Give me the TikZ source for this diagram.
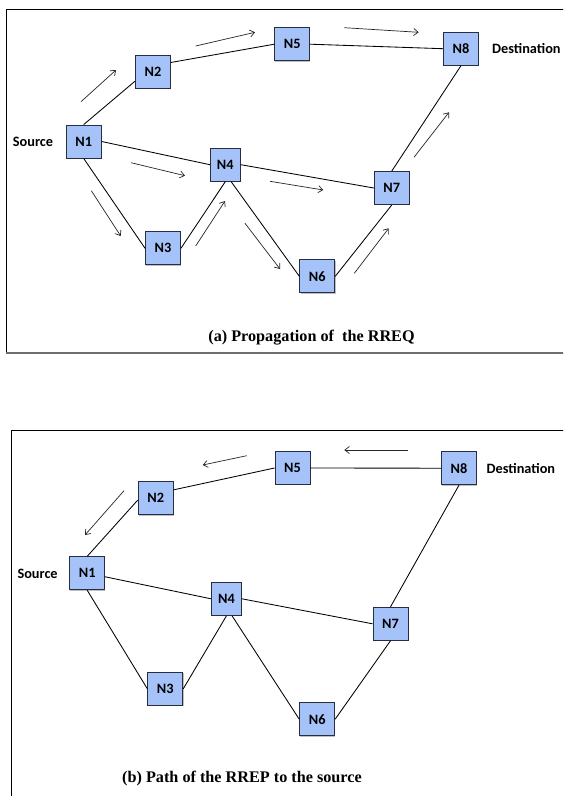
\documentclass[tikz,border=0pt]{standalone}
\usepackage{fontspec}
\setmainfont{Liberation Serif}
\newfontfamily\labelfont{Carlito}
\usetikzlibrary{arrows.meta,shadows}

\definecolor{nodefill}{RGB}{165,195,248}
\definecolor{nodeline}{RGB}{38,46,64}
\definecolor{framegray}{RGB}{110,110,110}

\tikzset{
  netnode/.style={draw=nodeline, line width=0.9pt, fill=nodefill,
    minimum width=35pt, minimum height=33pt, inner sep=0pt,
    font=\labelfont\bfseries\fontsize{14.3}{16}\selectfont,
    drop shadow={shadow xshift=0.7pt, shadow yshift=-0.8pt, fill=black, opacity=0.25}},
  narrow/.style={minimum width=30pt},
  tag/.style={inner sep=0pt, anchor=west, font=\labelfont\bfseries\fontsize{14.3}{16}\selectfont},
  link/.style={draw=black, line width=0.85pt},
  flow/.style={draw=black!85, line width=0.7pt, -{Straight Barb[length=4.5pt,width=7pt]}},
  caption/.style={inner sep=0pt, anchor=base, font=\bfseries\fontsize{16.2}{18}\selectfont},
}

\begin{document}
\begin{tikzpicture}[x=1pt, y=-1pt]
\useasboundingbox (0,0) rectangle (563,796);
\clip (0,0) rectangle (563,796);
\fill[white] (0,0) rectangle (563,796);

% ---------------- panel (a): propagation of the RREQ ----------------
\draw[black, line width=0.9pt] (6.3,352.7) -- (6.3,9.3) -- (600,9.3);
\draw[framegray, line width=1.8pt] (6.3,352.7) -- (600,352.7);

\node[netnode] (a1) at (83.7,141.5) {N1};
\node[netnode] (a2) at (153,72) {N2};
\node[netnode] (a5) at (292.2,44.2) {N5};
\node[netnode] (a8) at (461,48.7) {N8};
\node[netnode,narrow] (a4) at (225.3,164.7) {N4};
\node[netnode] (a7) at (391.8,188) {N7};
\node[netnode] (a3) at (163,248.3) {N3};
\node[netnode] (a6) at (317.3,276.3) {N6};

\node[tag] (asrc) at (12.7,141.7) {Source};
\node[tag] (adst) at (492,48.7) {Destination};

\draw[link] (a1.north) -- (a2.207);
\draw[link] (a2.28) -- (a5.west);
\draw[link] (a5.east) -- (a8.west);
\draw[link] (a8.south) -- (a7.north);
\draw[link] (a1.east) -- (a4.west);
\draw[link] (a4.east) -- (a7.west);
\draw[link] (a1.south) -- (a3.west);
\draw[link] (a3.east) -- (a4.south);
\draw[link] (a4.289) -- (a6.west);
\draw[link] (a6.east) -- (a7.south);

% request flow markers
\coordinate (r1s) at (81,101.7);   \coordinate (r1e) at (116,70);
\coordinate (r2s) at (195.7,46);   \coordinate (r2e) at (255,32.3);
\coordinate (r3s) at (344.3,27.7); \coordinate (r3e) at (418.7,32.3);
\coordinate (r4s) at (414,157.3);  \coordinate (r4e) at (449,112.3);
\coordinate (r5s) at (131,162.7);  \coordinate (r5e) at (185,175.7);
\coordinate (r6s) at (270,181.3);  \coordinate (r6e) at (323.3,190);
\coordinate (r7s) at (91.3,190.7); \coordinate (r7e) at (120.7,236);
\coordinate (r8s) at (195.7,246);  \coordinate (r8e) at (225,201);
\coordinate (r9s) at (245,223.3);  \coordinate (r9e) at (280,269);
\coordinate (r10s) at (354.3,273.3); \coordinate (r10e) at (388.7,228.3);
\foreach \k in {1,...,10} { \draw[flow] (r\k s) -- (r\k e); }

\node[caption] (capa) at (311.5,341.5) {(a) Propagation of\ \ the RREQ};

% ---------------- panel (b): path of the RREP ----------------
\draw[black, line width=0.9pt] (11.7,820) -- (11.7,430.7) -- (600,430.7);

\node[netnode] (b1) at (87.2,573.3) {N1};
\node[netnode] (b2) at (155.7,498.2) {N2};
\node[netnode] (b5) at (292.5,468) {N5};
\node[netnode] (b8) at (459,468.2) {N8};
\node[netnode,narrow] (b4) at (226.5,598.8) {N4};
\node[netnode] (b7) at (390.5,623.8) {N7};
\node[netnode] (b3) at (165.3,688.8) {N3};
\node[netnode] (b6) at (317.2,719.2) {N6};

\node[tag] (bsrc) at (17.3,574) {Source};
\node[tag] (bdst) at (486.5,468.3) {Destination};

\draw[link] (b1.north) -- (b2.186);
\draw[link] (b2.25) -- (b5.west);
\draw[link] (b5.east) -- (b8.west);
\draw[link] (b8.south) -- (b7.north);
\draw[link] (b1.349) -- (b4.west);
\draw[link] (b4.east) -- (b7.west);
\draw[link] (b1.south) -- (b3.west);
\draw[link] (b3.east) -- (b4.south);
\draw[link] (b4.288) -- (b6.west);
\draw[link] (b6.east) -- (b7.south);

% reply flow markers
\coordinate (p1s) at (124,490.7);   \coordinate (p1e) at (85,535);
\coordinate (p2s) at (246.7,455.7); \coordinate (p2e) at (202.7,465);
\coordinate (p3s) at (407.5,450);   \coordinate (p3e) at (344.3,450);
\foreach \k in {1,2,3} { \draw[flow] (p\k s) -- (p\k e); }

\node[caption] (capb) at (242,782) {(b) Path of the RREP to the source};
\end{tikzpicture}
\end{document}
